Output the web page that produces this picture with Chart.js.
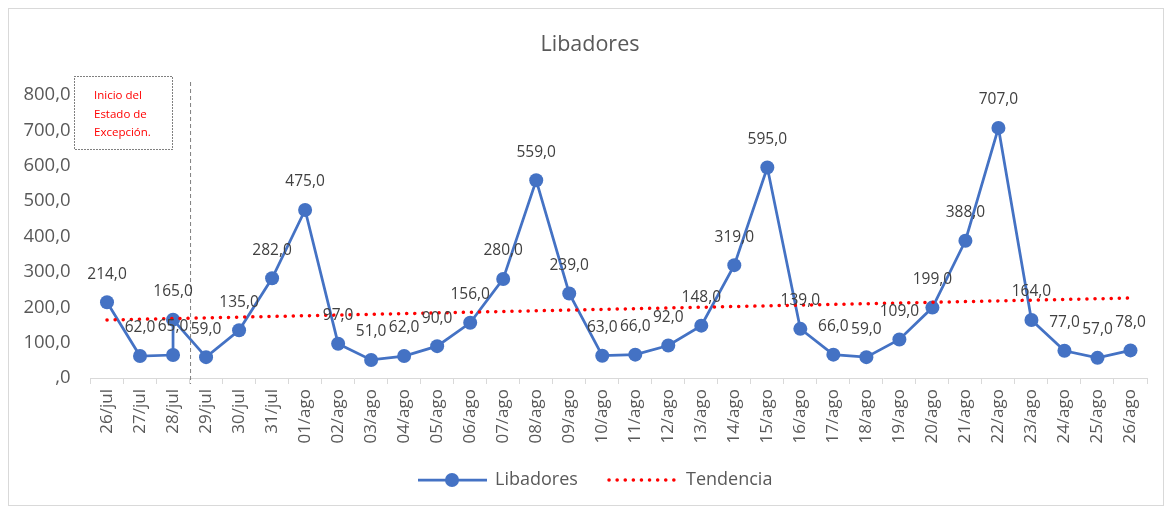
<!DOCTYPE html>
<html>
<head>
<meta charset="utf-8">
<script src="https://cdn.jsdelivr.net/npm/chart.js@4.4.1/dist/chart.umd.min.js"></script>
<style>
  html, body { margin: 0; padding: 0; background: #fff; }
  #wrap { position: relative; width: 1171px; height: 513px; }
</style>
</head>
<body>
<div id="wrap"><canvas id="chart" width="1171" height="513"></canvas></div>
<script>
// etiquetas del eje X
const fechas = ['26/jul','27/jul','28/jul','29/jul','30/jul','31/jul',
  '01/ago','02/ago','03/ago','04/ago','05/ago','06/ago','07/ago','08/ago','09/ago','10/ago',
  '11/ago','12/ago','13/ago','14/ago','15/ago','16/ago','17/ago','18/ago','19/ago','20/ago',
  '21/ago','22/ago','23/ago','24/ago','25/ago','26/ago'];
// el 28/jul tiene dos registros
const fechasPuntos = ['26/jul','27/jul','28/jul','28/jul','29/jul','30/jul','31/jul',
  '01/ago','02/ago','03/ago','04/ago','05/ago','06/ago','07/ago','08/ago','09/ago','10/ago',
  '11/ago','12/ago','13/ago','14/ago','15/ago','16/ago','17/ago','18/ago','19/ago','20/ago',
  '21/ago','22/ago','23/ago','24/ago','25/ago','26/ago'];
const libadores = [214, 62, 65, 165, 59, 135, 282, 475, 97, 51, 62, 90, 156, 280, 559, 239,
  63, 66, 92, 148, 319, 595, 139, 66, 59, 109, 199, 388, 707, 164, 77, 57, 78];
const tendenciaFechas = ['26/jul', '26/ago'];
const tendencia = [164, 226];
const ticksY = [0, 100, 200, 300, 400, 500, 600, 700, 800];

const fmt = v => v === 0 ? ',0' : v.toFixed(1).replace('.', ',');
const FONT = "'Open Sans', sans-serif";

const extras = {
  id: 'extras',
  afterDatasetsDraw(chart) {
    const ctx = chart.ctx;
    const x = chart.scales.x, y = chart.scales.y;
    // linea vertical discontinua (inicio del estado de excepcion)
    const lx = (x.getPixelForValue(2) + x.getPixelForValue(3)) / 2 + 1;
    ctx.save();
    ctx.strokeStyle = '#7f7f7f';
    ctx.lineWidth = 1;
    ctx.setLineDash([4, 3]);
    ctx.beginPath();
    ctx.moveTo(lx, 82);
    ctx.lineTo(lx, y.bottom + 6);
    ctx.stroke();
    // cuadro de texto
    ctx.setLineDash([1, 2]);
    ctx.strokeStyle = '#000';
    ctx.strokeRect(74.5, 76.5, 98, 73);
    ctx.setLineDash([]);
    ctx.fillStyle = '#ff0000';
    ctx.font = '11.5px ' + FONT;
    ctx.textBaseline = 'middle';
    ctx.textAlign = 'left';
    ['Inicio del', 'Estado de', 'Excepción.'].forEach((t, i) => ctx.fillText(t, 94, 96 + i * 18.5));
    // etiquetas de datos
    ctx.fillStyle = '#404040';
    ctx.font = '15.5px ' + FONT;
    ctx.textAlign = 'center';
    chart.getDatasetMeta(0).data.forEach((p, i) => {
      ctx.fillText(fmt(libadores[i]), p.x, p.y - 28);
    });
    ctx.restore();
  },
  afterDraw(chart) {
    const ctx = chart.ctx;
    ctx.save();
    ctx.strokeStyle = '#d9d9d9';
    ctx.lineWidth = 1;
    ctx.strokeRect(8.5, 8.5, 1155, 497);
    // titulo
    ctx.fillStyle = '#595959';
    ctx.font = '21.5px ' + FONT;
    ctx.textAlign = 'center';
    ctx.textBaseline = 'middle';
    ctx.fillText('Libadores', 590, 45);
    // leyenda
    const ly = 480;
    ctx.strokeStyle = '#4472C4';
    ctx.lineWidth = 2.75;
    ctx.beginPath();
    ctx.moveTo(418, ly);
    ctx.lineTo(487, ly);
    ctx.stroke();
    ctx.fillStyle = '#4472C4';
    ctx.beginPath();
    ctx.arc(452, ly, 7, 0, Math.PI * 2);
    ctx.fill();
    ctx.strokeStyle = '#ff0000';
    ctx.lineWidth = 3.5;
    ctx.lineCap = 'round';
    ctx.setLineDash([0.1, 8]);
    ctx.beginPath();
    ctx.moveTo(609, ly);
    ctx.lineTo(679, ly);
    ctx.stroke();
    ctx.setLineDash([]);
    ctx.fillStyle = '#595959';
    ctx.font = '18px ' + FONT;
    ctx.textAlign = 'left';
    ctx.fillText('Libadores', 495, ly);
    ctx.fillText('Tendencia', 686, ly);
    ctx.restore();
  }
};

const ctx = document.getElementById('chart').getContext('2d');
const chart = new Chart(ctx, {
  type: 'line',
  data: {
    labels: fechas,
    datasets: [{
      label: 'Libadores',
      data: fechasPuntos.map((d, i) => ({ x: d, y: libadores[i] })),
      borderColor: '#4472C4',
      backgroundColor: '#4472C4',
      borderWidth: 2.75,
      pointRadius: 7,
      pointHoverRadius: 7,
      pointBorderWidth: 0,
      tension: 0,
      order: 1
    }, {
      label: 'Tendencia',
      data: tendenciaFechas.map((d, i) => ({ x: d, y: tendencia[i] })),
      borderColor: '#ff0000',
      borderWidth: 3.5,
      borderDash: [0.1, 8],
      borderCapStyle: 'round',
      pointRadius: 0,
      fill: false,
      order: 0
    }]
  },
  options: {
    responsive: false,
    animation: false,
    layout: { padding: { left: 8, right: 24, top: 95, bottom: 65 } },
    plugins: {
      legend: { display: false },
      title: { display: false },
      tooltip: { enabled: false }
    },
    scales: {
      x: {
        type: 'category',
        offset: true,
        grid: { offset: true, drawOnChartArea: false, color: '#d9d9d9', tickLength: 6 },
        border: { color: '#d9d9d9' },
        ticks: { color: '#595959', font: { size: 17, family: FONT }, minRotation: 90, maxRotation: 90, padding: 5, autoSkip: false },
        afterFit: s => { s.height = 70; }
      },
      y: {
        min: 0,
        max: 800,
        afterBuildTicks: s => { s.ticks = ticksY.map(v => ({ value: v })); },
        grid: { display: false },
        border: { display: false },
        ticks: { color: '#595959', font: { size: 18.5, family: FONT }, padding: 12, callback: v => fmt(v) },
        afterFit: s => { s.width = 82.5; }
      }
    }
  },
  plugins: [extras]
});
</script>
</body>
</html>
